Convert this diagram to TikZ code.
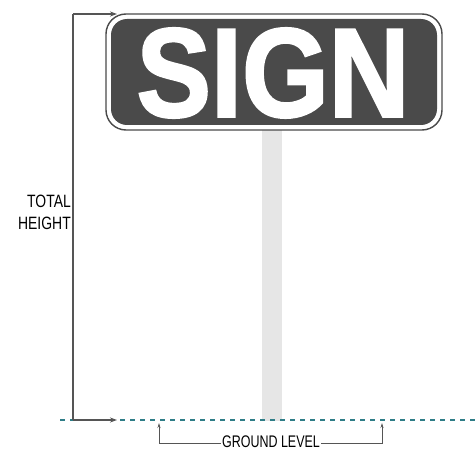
\documentclass[tikz,border=0pt]{standalone}
\usepackage{fontspec}
\setmainfont{Liberation Sans}
\newfontfamily\signfont[FakeBold=2]{Liberation Sans Bold}
\usetikzlibrary{arrows.meta}
\definecolor{signgray}{HTML}{4A4A4A}
\definecolor{linegray}{HTML}{555555}
\definecolor{postgray}{HTML}{E6E6E6}
\definecolor{groundteal}{HTML}{2E7D87}
\tikzset{
  dimline/.style={draw=linegray, line width=1.3pt},
  dimarrow/.style={dimline, -{Stealth[length=7pt,width=5pt]}},
  smallarrow/.style={draw=linegray, line width=0.8pt, -{Stealth[length=5pt,width=3pt]}},
  lbl/.style={inner sep=0pt, font=\fontsize{17}{19}\selectfont, text=black}
}
\begin{document}
\begin{tikzpicture}[x=1pt,y=-1pt]
\useasboundingbox (0,0) rectangle (475,452);
% post
\fill[postgray] (262,128) rectangle (282,421);
% sign
\draw[signgray, line width=1.4pt, fill=white, rounded corners=20pt] (106,14) rectangle (442,130);
\fill[signgray, rounded corners=16pt] (111,19) rectangle (437,125);
\node[inner sep=0pt, text=white] (sign) at (273,73)
  {\scalebox{0.9}[1.02]{\fontsize{124}{124}\signfont SIGN}};
% ground
\draw[groundteal, line width=1.1pt, dash pattern=on 5pt off 5pt] (60,420) -- (475,420);
% total height
\coordinate (top) at (73,14);
\coordinate (bot) at (73,420);
\coordinate (topend) at (117,14);
\coordinate (botend) at (117,420);
\draw[dimline] (top) -- (bot);
\draw[dimarrow] (top) -- (topend);
\draw[dimarrow] (bot) -- (botend);
\node[lbl, anchor=east, align=right] (th) at (71,212)
  {\scalebox{0.82}[1.05]{TOTAL}\\[3pt]\scalebox{0.82}[1.05]{HEIGHT}};
% ground level
\node[lbl, inner xsep=1pt, font=\fontsize{16}{18}\selectfont] (gl) at (271,442) {\scalebox{0.78}[1.05]{GROUND LEVEL}};
\coordinate (gla) at (159,443);
\coordinate (glat) at (159,423);
\coordinate (glb) at (382,443);
\coordinate (glbt) at (382,423);
\draw[smallarrow] (gl.west |- gla) -- (gla) -- (glat);
\draw[smallarrow] (gl.east |- glb) -- (glb) -- (glbt);
\end{tikzpicture}
\end{document}
